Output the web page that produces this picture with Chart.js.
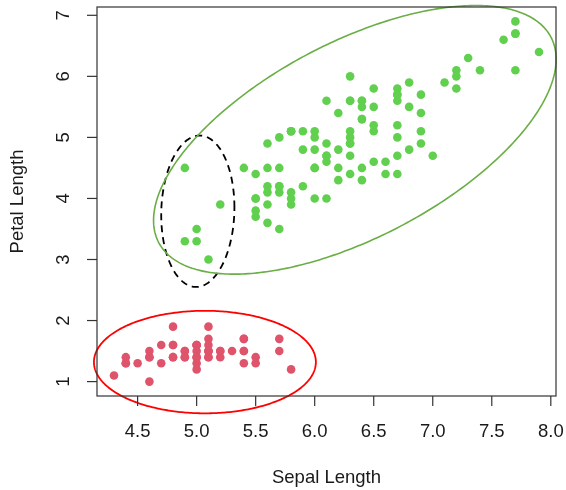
<!DOCTYPE html>
<html>
<head>
<title>Iris: Sepal vs Petal Length</title>
<script src="https://cdn.jsdelivr.net/npm/chart.js"></script>
<style>
    body { margin: 0; background: #fff; }
    canvas { display: block; }
</style>
</head>
<body>
<canvas id="irisChart" width="566" height="490"></canvas>
<script>
// setosa (red)
const setosaSepal = [5.1,4.9,4.7,4.6,5.0,5.4,4.6,5.0,4.4,4.9,5.4,4.8,4.8,4.3,5.8,5.7,5.4,5.1,5.7,5.1,
    5.4,5.1,4.6,5.1,4.8,5.0,5.0,5.2,5.2,4.7,4.8,5.4,5.2,5.5,4.9,5.0,5.5,4.9,4.4,5.1,
    5.0,4.5,4.4,5.0,5.1,4.8,5.1,4.6,5.3,5.0];
const setosaPetal = [1.4,1.4,1.3,1.5,1.4,1.7,1.4,1.5,1.4,1.5,1.5,1.6,1.4,1.1,1.2,1.5,1.3,1.4,1.7,1.5,
    1.7,1.5,1.0,1.7,1.9,1.6,1.6,1.5,1.4,1.6,1.6,1.5,1.5,1.4,1.5,1.2,1.3,1.4,1.3,1.5,
    1.3,1.3,1.3,1.6,1.9,1.4,1.6,1.4,1.5,1.4];

// versicolor + virginica (green)
const otherSepal = [7.0,6.4,6.9,5.5,6.5,5.7,6.3,4.9,6.6,5.2,5.0,5.9,6.0,6.1,5.6,6.7,5.6,5.8,6.2,5.6,
    5.9,6.1,6.3,6.1,6.4,6.6,6.8,6.7,6.0,5.7,5.5,5.5,5.8,6.0,5.4,6.0,6.7,6.3,5.6,5.5,
    5.5,6.1,5.8,5.0,5.6,5.7,5.7,6.2,5.1,5.7,
    6.3,5.8,7.1,6.3,6.5,7.6,4.9,7.3,6.7,7.2,6.5,6.4,6.8,5.7,5.8,6.4,6.5,7.7,7.7,6.0,
    6.9,5.6,7.7,6.3,6.7,7.2,6.2,6.1,6.4,7.2,7.4,7.9,6.4,6.3,6.1,7.7,6.3,6.4,6.0,6.9,
    6.7,6.9,5.8,6.8,6.7,6.7,6.3,6.5,6.2,5.9];
const otherPetal = [4.7,4.5,4.9,4.0,4.6,4.5,4.7,3.3,4.6,3.9,3.5,4.2,4.0,4.7,3.6,4.4,4.5,4.1,4.5,3.9,
    4.8,4.0,4.9,4.7,4.3,4.4,4.8,5.0,4.5,3.5,3.8,3.7,3.9,5.1,4.5,4.5,4.7,4.4,4.1,4.0,
    4.4,4.6,4.0,3.3,4.2,4.2,4.2,4.3,3.0,4.1,
    6.0,5.1,5.9,5.6,5.8,6.6,4.5,6.3,5.8,6.1,5.1,5.3,5.5,5.0,5.1,5.3,5.5,6.7,6.9,5.0,
    5.7,4.9,6.7,4.9,5.7,6.0,4.8,4.9,5.6,5.8,6.1,6.4,5.6,5.1,5.6,6.1,5.6,5.5,4.8,5.4,
    5.6,5.1,5.1,5.9,5.7,5.2,5.0,5.2,5.4,5.1];

const xTicks = [4.5, 5.0, 5.5, 6.0, 6.5, 7.0, 7.5, 8.0];
const xTickLabels = ['4.5', '5.0', '5.5', '6.0', '6.5', '7.0', '7.5', '8.0'];
const yTicks = [1, 2, 3, 4, 5, 6, 7];
const yTickLabels = ['1', '2', '3', '4', '5', '6', '7'];

// hand-drawn ellipses: centre, half-width, half-height (data units), correlation
const ellipseCx = [5.07, 5.01, 6.34];
const ellipseCy = [1.32, 3.79, 4.96];
const ellipseRx = [0.94, 0.31, 1.705];
const ellipseRy = [0.84, 1.24, 2.20];
const ellipseRho = [0, 0.05, 0.60];

const ellipseStyles = [
    { color: '#ff0000', width: 1.8, dash: [] },
    { color: '#000000', width: 1.8, dash: [7, 5] },
    { color: '#6aae45', width: 1.6, dash: [] }
];

const textColor = '#1a1a1a';
const fontSpec = '18.5px "Liberation Sans", Arial, sans-serif';

const rFrame = {
    id: 'rFrame',
    afterDatasetsDraw(chart) {
        const ctx = chart.ctx;
        const xs = chart.scales.x, ys = chart.scales.y;
        // ellipses (not clipped, they run past the box in the original)
        ctx.save();
        ellipseCx.forEach((cx, i) => {
            const st = ellipseStyles[i];
            const rho = ellipseRho[i];
            const k = Math.sqrt(1 - rho * rho);
            ctx.beginPath();
            for (let s = 0; s <= 360; s++) {
                const t = s * Math.PI / 180;
                const vx = cx + ellipseRx[i] * Math.cos(t);
                const vy = ellipseCy[i] + ellipseRy[i] * (rho * Math.cos(t) + k * Math.sin(t));
                const px = xs.getPixelForValue(vx), py = ys.getPixelForValue(vy);
                if (s === 0) ctx.moveTo(px, py); else ctx.lineTo(px, py);
            }
            ctx.closePath();
            ctx.strokeStyle = st.color;
            ctx.lineWidth = st.width;
            ctx.setLineDash(st.dash);
            ctx.stroke();
        });
        ctx.restore();
    },
    afterDraw(chart) {
        const ctx = chart.ctx;
        const a = chart.chartArea;
        const xs = chart.scales.x, ys = chart.scales.y;
        ctx.save();
        ctx.strokeStyle = '#333';
        ctx.lineWidth = 1.2;
        ctx.setLineDash([]);
        ctx.strokeRect(a.left, a.top, a.right - a.left, a.bottom - a.top);

        ctx.fillStyle = textColor;
        ctx.font = fontSpec;
        ctx.textAlign = 'center';
        ctx.textBaseline = 'middle';

        // x axis
        xTicks.forEach((v, i) => {
            const px = xs.getPixelForValue(v);
            ctx.beginPath();
            ctx.moveTo(px, a.bottom);
            ctx.lineTo(px, a.bottom + 10);
            ctx.stroke();
            ctx.fillText(xTickLabels[i], px, a.bottom + 36);
        });
        ctx.fillText('Sepal Length', (a.left + a.right) / 2, a.bottom + 82);

        // y axis (labels parallel to axis)
        yTicks.forEach((v, i) => {
            const py = ys.getPixelForValue(v);
            ctx.beginPath();
            ctx.moveTo(a.left, py);
            ctx.lineTo(a.left - 10, py);
            ctx.stroke();
            ctx.save();
            ctx.translate(a.left - 33, py);
            ctx.rotate(-Math.PI / 2);
            ctx.fillText(yTickLabels[i], 0, 0);
            ctx.restore();
        });
        ctx.save();
        ctx.translate(a.left - 79, (a.top + a.bottom) / 2);
        ctx.rotate(-Math.PI / 2);
        ctx.fillText('Petal Length', 0, 0);
        ctx.restore();
        ctx.restore();
    }
};

const toPoints = (xsArr, ysArr) => xsArr.map((x, i) => ({ x: x, y: ysArr[i] }));

new Chart(document.getElementById('irisChart'), {
    type: 'scatter',
    data: {
        datasets: [
            {
                label: 'setosa',
                data: toPoints(setosaSepal, setosaPetal),
                backgroundColor: '#DF536B',
                borderWidth: 0,
                pointRadius: 4.3
            },
            {
                label: 'versicolor / virginica',
                data: toPoints(otherSepal, otherPetal),
                backgroundColor: '#61D04F',
                borderWidth: 0,
                pointRadius: 4.3
            }
        ]
    },
    options: {
        responsive: false,
        animation: false,
        layout: { padding: { left: 97, right: 10, top: 7, bottom: 94 } },
        scales: {
            x: { type: 'linear', min: 4.156, max: 8.044, display: false },
            y: { type: 'linear', min: 0.764, max: 7.136, display: false }
        },
        plugins: {
            legend: { display: false },
            tooltip: { enabled: false }
        }
    },
    plugins: [rFrame]
});
</script>
</body>
</html>
